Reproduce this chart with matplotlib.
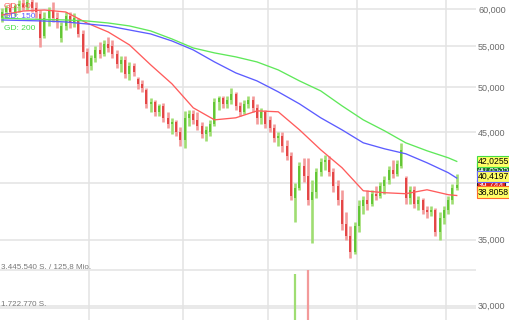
import numpy as np
import matplotlib
matplotlib.use('Agg')
import matplotlib.pyplot as plt
import matplotlib.transforms as mtransforms
from matplotlib.ticker import FixedLocator, NullLocator, FuncFormatter

plt.rcParams['font.family'] = ['Liberation Sans', 'DejaVu Sans']

# ---- daily bars (open / high / low / close) ----
opens = [58750, 59580, 60140, 59580, 60420, 60710, 60280, 60990, 60140, 59300,
         56340, 58750, 59860, 58750, 56070, 57670, 59030, 58210, 58480, 56600,
         54270, 52530, 53520, 54530, 54020, 55300, 55040, 54020, 52770, 53270,
         51560, 52530, 50960, 50370, 49670, 48070, 48300, 47180, 47850, 46530,
         45880, 46100, 45030, 44200, 46530, 46960, 46310, 45670, 44820, 45030,
         45880, 48300, 48750, 48070, 48520, 49210, 47850, 47180, 48070, 48520,
         47630, 46530, 47180, 46310, 45460, 44410, 44610, 43590, 42580, 38610,
         39520, 41600, 40640, 38430, 39150, 41020, 41990, 42190, 41020, 39700,
         38430, 36340, 35330, 34040, 36170, 37890, 38430, 38070, 38970, 38790,
         39700, 40260, 41210, 40830, 41600, 40450, 38610, 39330, 38070, 38430,
         37540, 37370, 37540, 35660, 36850, 37540, 38430, 39520]
highs = [60140, 60560, 60850, 60710, 61270, 61560, 61700, 61700, 60990, 59860,
         59580, 60280, 60990, 59580, 58210, 59580, 59580, 59440, 58750, 57130,
         54780, 53900, 55040, 55550, 55810, 56200, 55810, 54530, 53770, 53770,
         53020, 52900, 51200, 50840, 49900, 48750, 48520, 48070, 48190, 47180,
         46530, 46310, 45560, 47290, 47400, 47400, 47180, 46100, 45670, 46310,
         48750, 48980, 48980, 48980, 49900, 49440, 48300, 48520, 48980, 48980,
         48070, 47630, 47400, 46750, 45880, 45030, 45030, 44200, 42980, 39980,
         41990, 42380, 42380, 40260, 41410, 42380, 42680, 42580, 41410, 40260,
         39330, 37360, 36170, 36500, 38430, 38790, 39330, 39330, 39700, 40080,
         40640, 41600, 42190, 42190, 43890, 40640, 39700, 39700, 38790, 38610,
         37890, 37890, 37720, 37370, 37890, 38790, 39890, 40830]
lows = [58210, 58750, 59170, 59030, 59580, 59860, 59860, 59580, 58750, 54910,
        56070, 57670, 58210, 57400, 55550, 57130, 57400, 57530, 56200, 53520,
        51680, 52040, 53020, 53520, 53770, 54270, 53520, 52280, 51800, 51080,
        50840, 51320, 49780, 49440, 47630, 47180, 46750, 46750, 46100, 45460,
        44820, 44610, 43590, 43390, 45670, 45880, 45240, 44410, 44100, 44610,
        45670, 47400, 47630, 47630, 48070, 47400, 46750, 46960, 47630, 47180,
        45880, 45880, 45460, 45030, 43990, 43590, 42980, 42190, 38430, 36500,
        39330, 40080, 37980, 34760, 38610, 40640, 41210, 40640, 39150, 37980,
        35830, 35000, 33570, 33880, 35660, 37190, 37540, 37890, 38430, 38610,
        38970, 39890, 40450, 40640, 41410, 38070, 38070, 37720, 37540, 37190,
        36850, 37020, 35330, 35000, 36340, 37190, 38070, 39330]
closes = [59580, 60140, 59580, 60420, 60710, 60280, 60990, 60140, 59580, 56070,
          58750, 59860, 58750, 58210, 57670, 59030, 58210, 58750, 56600, 54270,
          52530, 53520, 54530, 54020, 55300, 54780, 54020, 52770, 53270, 51560,
          52530, 51800, 50370, 49900, 48070, 48300, 47180, 47850, 46530, 45880,
          46100, 45030, 44200, 46530, 46960, 46310, 45670, 44820, 45240, 45880,
          48300, 48750, 48070, 48520, 49210, 47850, 47180, 48070, 48520, 47630,
          46530, 47180, 45880, 45460, 44410, 44610, 43590, 42580, 38790, 39520,
          41600, 40640, 38430, 39150, 41020, 41990, 42190, 41020, 39700, 38430,
          36340, 35330, 34040, 36170, 37890, 38430, 38070, 38970, 38790, 39700,
          40260, 41210, 40830, 41790, 43180, 38610, 39330, 38070, 38430, 37540,
          37370, 37540, 35660, 36850, 37540, 38430, 39520, 39744]

# ---- moving averages (read every 5 bars) ----
ma_idx = [0, 5, 10, 15, 20, 25, 30, 35, 40, 45, 50, 55, 60, 65, 70, 75, 80, 85,
          90, 95, 100, 105, 107]
gd50 = [59170, 59720, 59860, 59580, 58060, 56860, 55170, 52650, 50370, 47630,
        46310, 46530, 47290, 47190, 45240, 43180, 41410, 39240, 39060, 38970,
        39330, 38880, 38806]
gd150 = [58480, 58410, 58340, 58210, 57940, 57670, 57130, 56600, 55680, 54530,
         53020, 51680, 50720, 49440, 48070, 46530, 45240, 43890, 43280, 42780,
         41890, 40930, 40420]
gd200 = [58750, 58620, 58550, 58480, 58340, 58070, 57670, 57000, 55940, 54780,
         54150, 53650, 53020, 52040, 50720, 49550, 47850, 46310, 45140, 43890,
         43080, 42380, 42026]

month_starts = [21, 43, 63, 84, 105]

# ---- volume (only the two bars that reach into the picture) ----
vol_idx = [69, 72]
vol_values = [3264000, 3445540]
vol_up = [True, False]
vol_ticks = [1722770, 3445540]
vol_labels = ['1.722.770 S.', '3.445.540 S. / 125,8 Mio.']

price_ticks = [30000, 35000, 40000, 45000, 50000, 55000, 60000]

# last value boxes
box_labels = ['40,8535', '39,744', '42,0255', '40,4197', '38,8058']
box_values = [40853.5, 39744, 42025.5, 40419.7, 38805.8]

up_light, up_dark = '#9fdd72', '#4fbf22'
dn_light, dn_dark = '#f39a9a', '#e02c2c'
grid_c = '#e3e3e3'

fig = plt.figure(figsize=(5.1, 3.2), dpi=100)
fig.patch.set_facecolor('white')
rect = [0, 0, 476 / 510, 1]
ax = fig.add_axes(rect)
x = np.arange(len(closes))
xlim = (-2 / 4.25, 474 / 4.25)
ax.set_xlim(xlim)
ax.set_yscale('log')
ax.set_ylim(29012, 61275)

for s in ax.spines.values():
    s.set_visible(False)
ax.set_xticks([])
ax.yaxis.tick_right()
ax.yaxis.set_major_locator(FixedLocator(price_ticks))
ax.yaxis.set_minor_locator(NullLocator())
ax.yaxis.set_major_formatter(FuncFormatter(lambda v, p: '{:,.0f}'.format(v)))
ax.tick_params(axis='y', length=0, pad=1.5, labelsize=6.5, labelcolor='#6a6a6a')
ax.grid(axis='y', color=grid_c, lw=1.1, zorder=0)
ax.set_axisbelow(True)
for m in month_starts:
    ax.axvline(m - 0.5, color=grid_c, lw=1.1, zorder=0)

# volume panel, overlaid at the bottom
ax2 = fig.add_axes(rect)
ax2.patch.set_visible(False)
ax2.axis('off')
ax2.set_xlim(xlim)
ax2.set_ylim(1178700, 15686000)
trans2 = mtransforms.blended_transform_factory(ax2.transAxes, ax2.transData)
for v, lab in zip(vol_ticks, vol_labels):
    ax2.axhline(v, color=grid_c, lw=1.1, zorder=0)
    ax2.text(1 / 476, v, lab, transform=trans2, va='bottom', ha='left',
             fontsize=5.8, color='#777777')
ax2.vlines(vol_idx, 0, vol_values,
           colors=[up_light if u else dn_light for u in vol_up], lw=1.6)

# price bars
o = np.array(opens); c = np.array(closes)
up = c >= o
ax.vlines(x, lows, highs, colors=np.where(up, up_light, dn_light), lw=1.9, zorder=3)
ax.vlines(x, np.minimum(o, c), np.maximum(o, c),
          colors=np.where(up, up_dark, dn_dark), lw=1.1, zorder=4)

# moving averages
ax.plot(ma_idx, gd50, color='#ff5c5c', lw=0.95, zorder=5)
ax.plot(ma_idx, gd150, color='#5c5cff', lw=0.95, zorder=5)
ax.plot(ma_idx, gd200, color='#5fe85a', lw=0.95, zorder=5)

fig.text(4 / 510, 1 - 6 / 320, 'GD: 50', color='#ff5c5c', fontsize=6, va='center')
fig.text(4 / 510, 1 - 17 / 320, 'GD: 150', color='#5c5cff', fontsize=6, va='center')
fig.text(4 / 510, 1 - 29 / 320, 'GD: 200', color='#44dd44', fontsize=6, va='center')

# value boxes on the right (offsets in pixels, upwards)
styles = [('#1e6b2c', '#1e6b2c', 'white', 4.5),
          ('#dd2020', '#222222', 'white', 0),
          ('#ffff66', '#44dd44', 'black', 0),
          ('#ffff66', '#6666ff', 'black', 2),
          ('#ffff66', '#ff6a2a', 'black', 3.5)]
for k, (lab, val) in enumerate(zip(box_labels, box_values)):
    fc, ec, tc, off = styles[k]
    ax.annotate(lab, xy=(1, val), xycoords=('axes fraction', 'data'),
                xytext=(1.2, off * 0.72), textcoords='offset points',
                ha='left', va='center', fontsize=6.2, color=tc,
                bbox=dict(boxstyle='square,pad=0.12', fc=fc, ec=ec, lw=0.8),
                annotation_clip=False, zorder=6 + k)

fig.savefig('out.png', dpi=100)
